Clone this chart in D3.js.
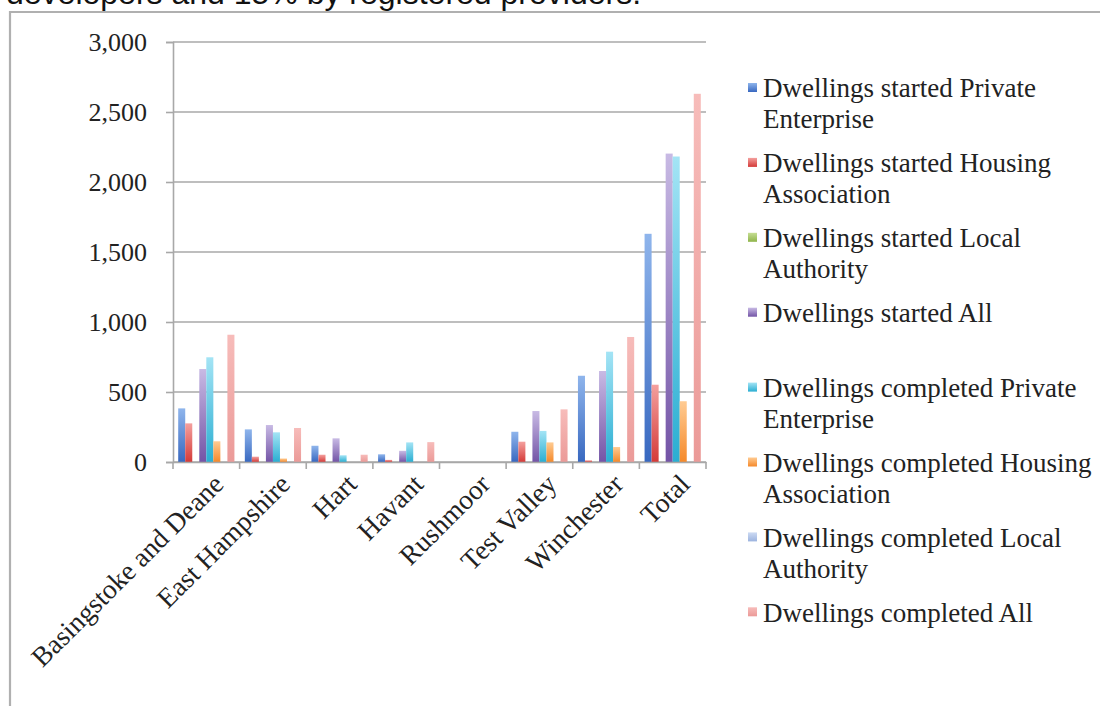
<!DOCTYPE html>
<html>
<head>
<meta charset="utf-8">
<script src="https://cdn.jsdelivr.net/npm/d3@7"></script>
<style>
  html, body { margin: 0; padding: 0; background: #fff; overflow: hidden; }
  svg { display: block; }
</style>
</head>
<body>
<svg id="chart" width="1100" height="706"></svg>
<script>
// Districts along the x axis
const categories = ["Basingstoke and Deane", "East Hampshire", "Hart", "Havant", "Rushmoor", "Test Valley", "Winchester", "Total"];

// Dwellings started
const startedPrivate   = [383, 233, 116, 55, 0, 216, 616, 1630];
const startedHousing   = [276, 38, 52, 15, 0, 145, 12, 552];
const startedLocal     = [0, 0, 0, 0, 0, 0, 0, 0];
const startedAll       = [664, 264, 169, 80, 0, 364, 650, 2203];

// Dwellings completed
const completedPrivate = [748, 212, 48, 140, 0, 222, 788, 2182];
const completedHousing = [148, 25, 0, 0, 0, 140, 107, 434];
const completedLocal   = [0, 0, 0, 0, 0, 0, 0, 0];
const completedAll     = [909, 243, 52, 142, 0, 376, 893, 2630];

const seriesNames = [
  "Dwellings started Private Enterprise",
  "Dwellings started Housing Association",
  "Dwellings started Local Authority",
  "Dwellings started All",
  "Dwellings completed Private Enterprise",
  "Dwellings completed Housing Association",
  "Dwellings completed Local Authority",
  "Dwellings completed All"
];
const seriesValues = [startedPrivate, startedHousing, startedLocal, startedAll,
                      completedPrivate, completedHousing, completedLocal, completedAll];

const yTicks = [0, 500, 1000, 1500, 2000, 2500, 3000];

// Gradient stops per series (light top, saturated bottom)
const palette = [
  { top: "#8fb5ec", bottom: "#3868c0" },
  { top: "#f4a09e", bottom: "#d43a38" },
  { top: "#c6de94", bottom: "#8fb44a" },
  { top: "#c8bae4", bottom: "#7354a6" },
  { top: "#a4e4f5", bottom: "#2aaed2" },
  { top: "#ffcb92", bottom: "#f5892a" },
  { top: "#cddbf3", bottom: "#9cb3df" },
  { top: "#f7bcba", bottom: "#eb9a98" }
];

const svg = d3.select("#chart");
const serif = "'Liberation Serif', 'Times New Roman', serif";

// Caption line running above the frame
svg.append("text")
  .attr("x", 6).attr("y", 4)
  .attr("font-family", "'Liberation Sans', Arial, sans-serif")
  .attr("font-size", 32)
  .attr("fill", "#111")
  .text("developers and 15% by registered providers.");

// Chart frame
svg.append("path")
  .attr("d", "M10,706 V12 H1100")
  .attr("fill", "none")
  .attr("stroke", "#b0b0b0")
  .attr("stroke-width", 2.2);

// Gradients
const defs = svg.append("defs");
palette.forEach((c, i) => {
  const g = defs.append("linearGradient")
    .attr("id", "grad" + i)
    .attr("x1", 0).attr("y1", 0).attr("x2", 0).attr("y2", 1);
  g.append("stop").attr("offset", "0%").attr("stop-color", c.top);
  g.append("stop").attr("offset", "100%").attr("stop-color", c.bottom);
});

const plot = { left: 173, right: 706, top: 42, bottom: 462 };

const x = d3.scaleBand().domain(categories).range([plot.left, plot.right]).padding(0);
const inner = d3.scaleBand().domain(seriesNames)
  .range([5.2, x.bandwidth() - 5.2]).padding(0);
const y = d3.scaleLinear().domain([0, 3000]).range([plot.bottom, plot.top]);

// Gridlines
svg.append("g")
  .selectAll("line")
  .data(yTicks)
  .join("line")
  .attr("x1", plot.left).attr("x2", plot.right)
  .attr("y1", d => y(d)).attr("y2", d => y(d))
  .attr("stroke", "#a8a8a8")
  .attr("stroke-width", 1.6);

// Y axis
const yAxis = svg.append("g")
  .attr("transform", `translate(${plot.left},0)`)
  .call(d3.axisLeft(y).tickValues(yTicks).tickFormat(d3.format(",")).tickSize(7).tickPadding(19));
yAxis.select(".domain").attr("stroke", "#a8a8a8").attr("stroke-width", 1.6);
yAxis.selectAll(".tick line").attr("stroke", "#a8a8a8").attr("stroke-width", 1.6);
yAxis.selectAll(".tick text")
  .attr("font-family", serif)
  .attr("font-size", 26)
  .attr("fill", "#222")
  .attr("dy", "0.32em");

// Bars
const groups = svg.append("g")
  .selectAll("g")
  .data(categories)
  .join("g")
  .attr("transform", d => `translate(${x(d)},0)`);

groups.selectAll("rect")
  .data((cat, ci) => seriesNames.map((s, si) => ({ s, si, v: seriesValues[si][ci] })))
  .join("rect")
  .attr("x", d => inner(d.s))
  .attr("width", inner.bandwidth())
  .attr("y", d => y(d.v))
  .attr("height", d => y(0) - y(d.v))
  .attr("fill", d => `url(#grad${d.si})`);

// X axis line and category boundary ticks
const xAxis = svg.append("g")
  .attr("transform", `translate(0,${plot.bottom})`)
  .call(d3.axisBottom(x).tickSize(0).tickFormat(""));
xAxis.select(".domain").attr("stroke", "#a8a8a8").attr("stroke-width", 1.6);
xAxis.selectAll(".tick").remove();

const boundaries = categories.map(c => x(c)).concat([x.range()[1]]);
svg.append("g")
  .selectAll("line")
  .data(boundaries)
  .join("line")
  .attr("x1", d => d).attr("x2", d => d)
  .attr("y1", plot.bottom).attr("y2", plot.bottom + 7)
  .attr("stroke", "#a8a8a8")
  .attr("stroke-width", 1.6);

// Rotated category labels
svg.append("g")
  .selectAll("text")
  .data(categories)
  .join("text")
  .attr("transform", d => `translate(${x(d) + x.bandwidth() / 2 + 12},${plot.bottom + 17}) rotate(-45)`)
  .attr("text-anchor", "end")
  .attr("dy", "0.35em")
  .attr("font-family", serif)
  .attr("font-size", 27.5)
  .attr("fill", "#222")
  .text(d => d);

// Legend
const legend = svg.append("g");
const legendX = 748, legendTextX = 763, legendTop = 88, legendStep = 74.9, lineGap = 31, maxW = 335;

seriesNames.forEach((name, i) => {
  const cy = legendTop + i * legendStep;
  legend.append("rect")
    .attr("x", legendX).attr("y", cy - 5)
    .attr("width", 9).attr("height", 9)
    .attr("fill", `url(#grad${i})`);
  const t = legend.append("text")
    .attr("x", legendTextX).attr("y", cy)
    .attr("dy", "0.35em")
    .attr("font-family", serif)
    .attr("font-size", 27)
    .attr("fill", "#222");
  // wrap the series name onto as many lines as needed
  const words = name.split(" ");
  let line = [];
  let tspan = t.append("tspan").attr("x", legendTextX);
  words.forEach(w => {
    line.push(w);
    tspan.text(line.join(" "));
    if (tspan.node().getComputedTextLength() > maxW && line.length > 1) {
      line.pop();
      tspan.text(line.join(" "));
      line = [w];
      tspan = t.append("tspan").attr("x", legendTextX).attr("dy", lineGap).text(w);
    }
  });
});
</script>
</body>
</html>
